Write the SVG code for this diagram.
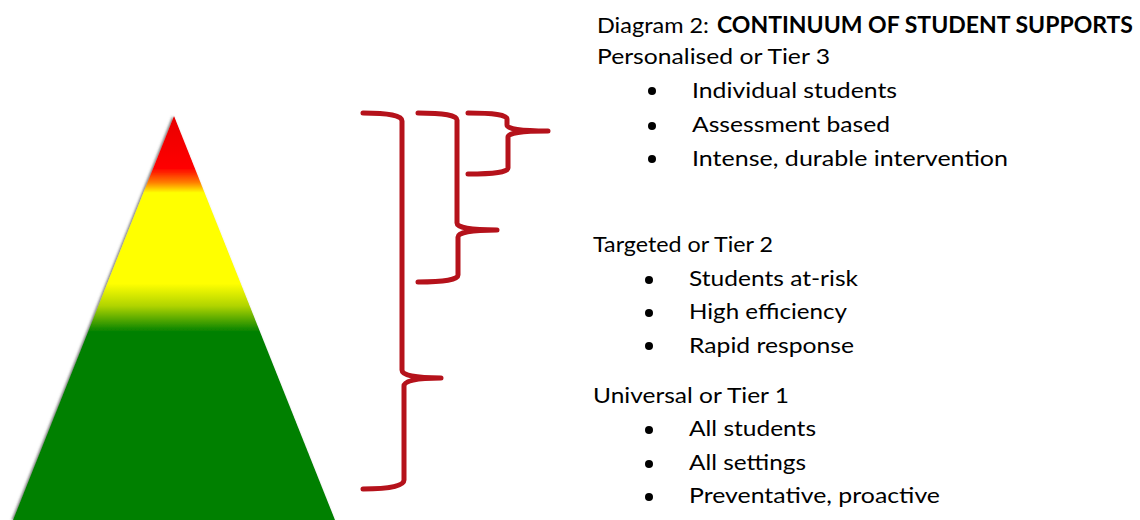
<svg xmlns="http://www.w3.org/2000/svg" width="1140" height="520" viewBox="0 0 1140 520">
<defs>
<linearGradient id="pyr" x1="0" y1="116" x2="0" y2="520" gradientUnits="userSpaceOnUse">
<stop offset="0" stop-color="#E80000"/>
<stop offset="0.13" stop-color="#FF0000"/>
<stop offset="0.165" stop-color="#FF8000"/>
<stop offset="0.19" stop-color="#FFFF00"/>
<stop offset="0.415" stop-color="#FFFF00"/>
<stop offset="0.47" stop-color="#B0D400"/>
<stop offset="0.535" stop-color="#008000"/>
<stop offset="1" stop-color="#008000"/>
</linearGradient>
<filter id="shadow" x="-10%" y="-10%" width="120%" height="120%">
<feDropShadow dx="-1.5" dy="0" stdDeviation="1.2" flood-color="#444" flood-opacity="0.7"/>
</filter>
</defs>
<style>
.t{font-family:Lato,"Open Sans",sans-serif;font-size:22px;fill:#000}
.b{font-weight:bold}
.br{fill:none;stroke:#B5121B;stroke-width:5;stroke-linecap:round;stroke-linejoin:round}
.dot{fill:#000}
</style>
<g id="pyramid">
<polygon points="174,116 13,520 335,520" fill="url(#pyr)" filter="url(#shadow)"/>
</g>
<g id="connectors">
<path class="br" d="M363,113 Q402,113 402,121 V370 Q402,378 441,378 Q404,378 404,386 V480 Q404,489 363,489"/>
<path class="br" d="M418,113 Q457,113 457,120 V223 Q457,230 497,230 Q458,230 458,237 V275 Q458,282 418,282"/>
<path class="br" d="M468,113 Q507,113 507,119 V125 Q507,131 548,131 Q508,131 508,137 V168 Q508,174 468,174"/>
</g>
<g id="title">
<text class="t" x="597" y="33" textLength="112" lengthAdjust="spacingAndGlyphs">Diagram 2:</text>
<text class="t b" x="717" y="33" textLength="416" lengthAdjust="spacingAndGlyphs">CONTINUUM OF STUDENT SUPPORTS</text>
</g>
<g id="tier3">
<text class="t" x="597" y="64" textLength="233" lengthAdjust="spacingAndGlyphs">Personalised or Tier 3</text>
<circle class="dot" cx="652" cy="91" r="4"/>
<text class="t" x="692" y="98" textLength="205" lengthAdjust="spacingAndGlyphs">Individual students</text>
<circle class="dot" cx="652" cy="126" r="4"/>
<text class="t" x="692" y="132" textLength="198" lengthAdjust="spacingAndGlyphs">Assessment based</text>
<circle class="dot" cx="652" cy="159" r="4"/>
<text class="t" x="692" y="166" textLength="316" lengthAdjust="spacingAndGlyphs">Intense, durable intervention</text>
</g>
<g id="tier2">
<text class="t" x="593" y="252" textLength="180" lengthAdjust="spacingAndGlyphs">Targeted or Tier 2</text>
<circle class="dot" cx="649" cy="280" r="4"/>
<text class="t" x="689" y="286" textLength="169" lengthAdjust="spacingAndGlyphs">Students at-risk</text>
<circle class="dot" cx="649" cy="313" r="4"/>
<text class="t" x="689" y="319" textLength="158" lengthAdjust="spacingAndGlyphs">High efficiency</text>
<circle class="dot" cx="649" cy="346" r="4"/>
<text class="t" x="689" y="353" textLength="165" lengthAdjust="spacingAndGlyphs">Rapid response</text>
</g>
<g id="tier1">
<text class="t" x="593" y="403" textLength="196" lengthAdjust="spacingAndGlyphs">Universal or Tier 1</text>
<circle class="dot" cx="649" cy="430" r="4"/>
<text class="t" x="689" y="436" textLength="127" lengthAdjust="spacingAndGlyphs">All students</text>
<circle class="dot" cx="649" cy="464" r="4"/>
<text class="t" x="689" y="470" textLength="117" lengthAdjust="spacingAndGlyphs">All settings</text>
<circle class="dot" cx="649" cy="497" r="4"/>
<text class="t" x="689" y="503" textLength="251" lengthAdjust="spacingAndGlyphs">Preventative, proactive</text>
</g>
</svg>
